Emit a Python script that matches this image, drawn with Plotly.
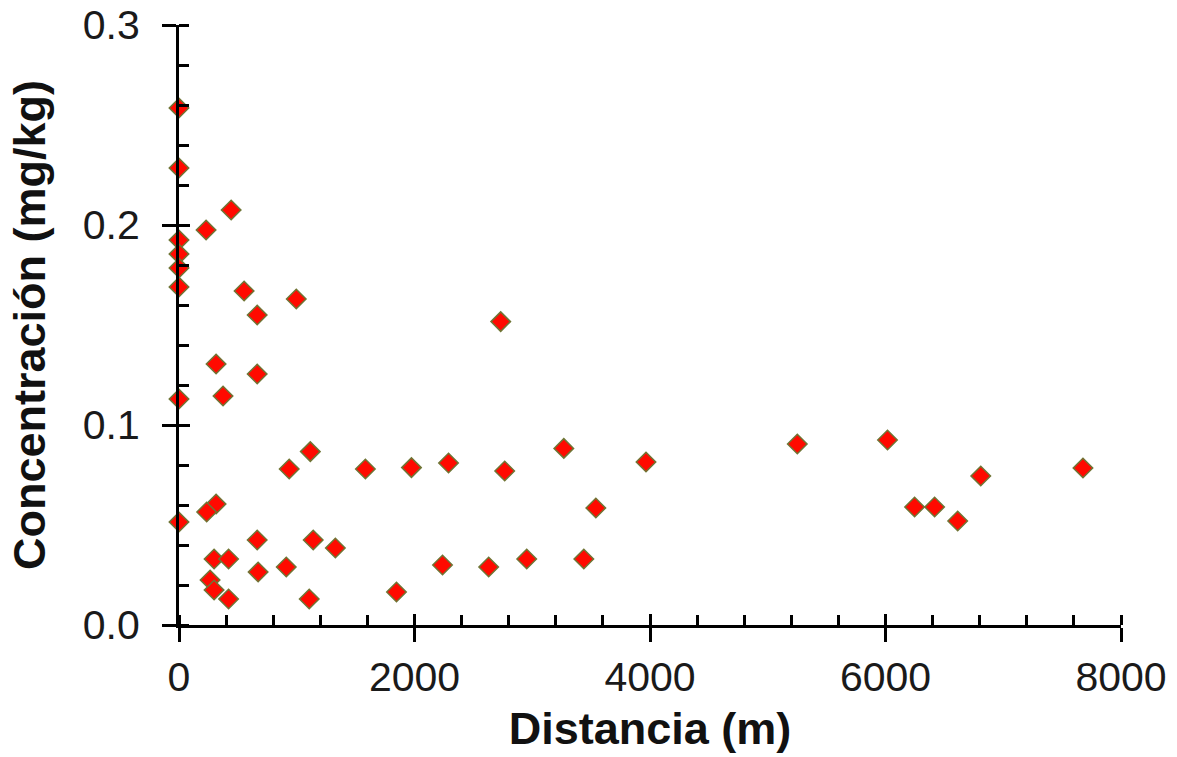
import plotly.graph_objects as go

distancia_m = [
    0, 0, 443, 230, 0, 0, 0, 0, 553, 996, 664, 2732, 315, 664, 374, 0,
    936, 1115, 1583, 1974, 2289, 2766, 3268, 3966, 5251, 6017, 6247, 6417, 6613, 6809, 7677, 3540,
    315, 235, 0, 664, 1140, 1328, 298, 421, 672, 911, 264, 298, 421, 1106, 1847, 2238, 2630, 2953, 3438,
]
concentracion = [
    0.2585, 0.2285, 0.2075, 0.1975, 0.1925, 0.1855, 0.1785, 0.169, 0.167, 0.163, 0.155, 0.1517, 0.1305, 0.1255, 0.1145, 0.113,
    0.078, 0.0867, 0.078, 0.0787, 0.081, 0.077, 0.0883, 0.0815, 0.0905, 0.0925, 0.059, 0.059, 0.052, 0.0745, 0.0785, 0.0585,
    0.0605, 0.0565, 0.0515, 0.0425, 0.0425, 0.0385, 0.033, 0.033, 0.0265, 0.029, 0.0225, 0.0175, 0.013, 0.013, 0.0165, 0.030, 0.029, 0.033, 0.033,
]

x_ticks = [0, 2000, 4000, 6000, 8000]
x_tick_labels = ["0", "2000", "4000", "6000", "8000"]
y_ticks = [0.0, 0.1, 0.2, 0.3]
y_tick_labels = ["0.0", "0.1", "0.2", "0.3"]

x_title = "Distancia (m)"
y_title = "Concentración (mg/kg)"

tick_font = dict(family="Liberation Sans, Arial", size=41, color="#1a1a1a")
title_font = dict(family="Liberation Sans, Arial", size=45, color="#111111")

fig = go.Figure()
fig.add_trace(go.Scatter(
    x=distancia_m, y=concentracion, mode="markers",
    marker=dict(symbol="diamond", size=15, color="#ff0a00",
                line=dict(color="#6f7535", width=1.5)),
    cliponaxis=False, showlegend=False,
))
fig.add_trace(go.Scatter(x=[], y=[], xaxis="x2", yaxis="y2", showlegend=False))

fig.update_layout(
    width=1177, height=757,
    margin=dict(l=179, r=56, t=25, b=132),
    paper_bgcolor="white", plot_bgcolor="white",
    xaxis=dict(
        range=[0, 8000], tickvals=x_ticks, ticktext=x_tick_labels,
        automargin=False,
        showgrid=False, zeroline=False,
        showline=True, linecolor="black", linewidth=3,
        ticks="outside", ticklen=14, tickwidth=3, tickcolor="black",
        minor=dict(dtick=400, ticks="inside", ticklen=10, tickwidth=2.5, tickcolor="black", showgrid=False),
        tickfont=tick_font, ticklabelstandoff=0,
        title=dict(text="<b>" + x_title + "</b>", font=title_font, standoff=14),
    ),
    yaxis=dict(
        range=[0, 0.3], tickvals=y_ticks, ticktext=y_tick_labels,
        automargin=False,
        showgrid=False, zeroline=False,
        showline=True, linecolor="black", linewidth=3,
        ticks="outside", ticklen=14, tickwidth=3, tickcolor="black",
        minor=dict(dtick=0.02, ticks="inside", ticklen=10, tickwidth=2.5, tickcolor="black", showgrid=False),
        tickfont=tick_font, ticklabelstandoff=14,
        title=dict(text="<b>" + y_title + "</b>", font=title_font, standoff=24),
    ),
    xaxis2=dict(
        range=[0, 8000], overlaying="x", anchor="y2", tickvals=x_ticks,
        automargin=False,
        showticklabels=False, showgrid=False, zeroline=False, showline=False,
        ticks="inside", ticklen=11, tickwidth=3, tickcolor="black",
    ),
    yaxis2=dict(
        range=[0, 0.3], overlaying="y", anchor="x2", tickvals=y_ticks,
        automargin=False,
        showticklabels=False, showgrid=False, zeroline=False, showline=False,
        ticks="inside", ticklen=11, tickwidth=3, tickcolor="black",
    ),
)

fig.write_html("out.html")
